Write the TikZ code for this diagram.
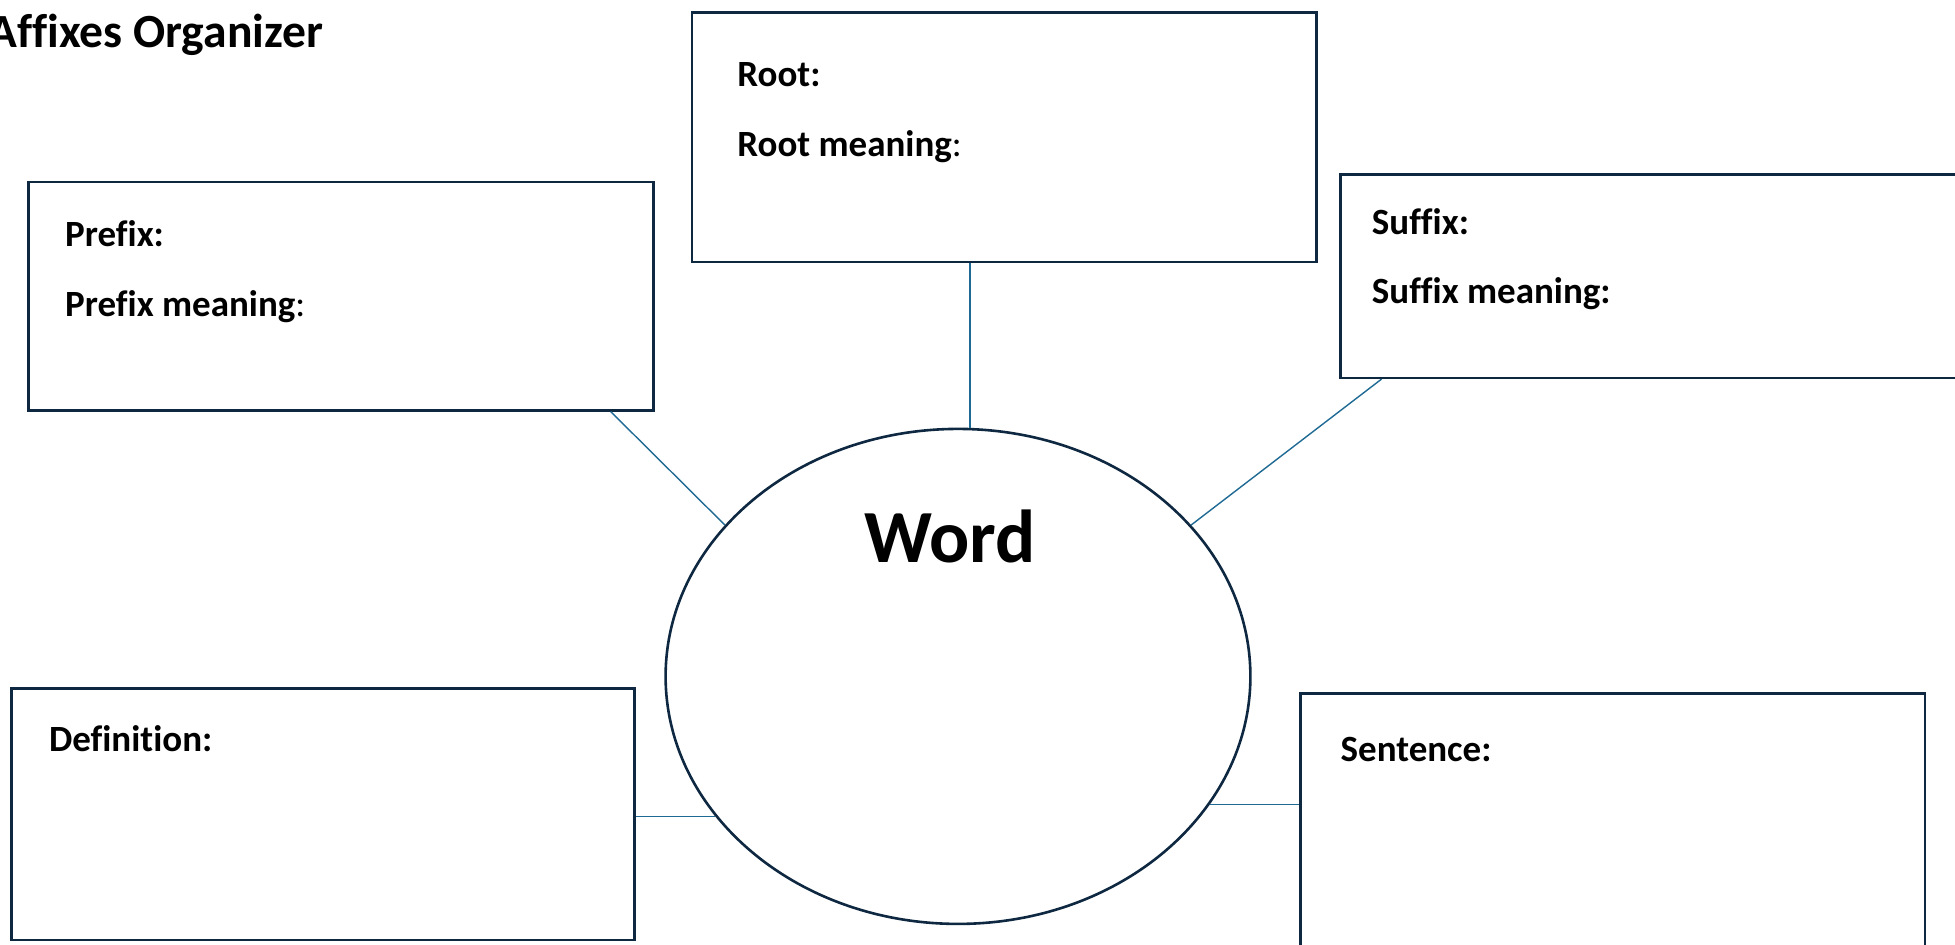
\documentclass[tikz,border=0pt]{standalone}
\usepackage{fontspec}
\setmainfont{Carlito}[Ligatures=CommonOff]
\usetikzlibrary{shapes.geometric,calc}
\definecolor{boxline}{HTML}{0E2841}
\definecolor{linkline}{HTML}{1F6A94}
\begin{document}
\begin{tikzpicture}[x=0.5pt,y=-0.5pt,
  card/.style={draw=boxline,line width=1.3pt,fill=white,anchor=north west,inner sep=0pt},
  link/.style={draw=linkline,line width=0.7pt},
  lbl/.style={anchor=base west,inner sep=0pt,font=\fontsize{18.5}{22}\selectfont\bfseries},
  titlefont/.style={anchor=base west,inner sep=0pt,font=\fontsize{23.8}{28}\selectfont\bfseries},
]
\useasboundingbox (0,0) rectangle (1955,944);
\clip (0,0) rectangle (1955,944);

% boxes
\node[card,minimum width=312.3pt,minimum height=114.1pt] (prefix) at (27.4,180.8) {};
\node[card,minimum width=312.35pt,minimum height=124.7pt] (root) at (690.7,11.2) {};
\node[card,minimum width=312.5pt,minimum height=101.6pt] (suffix) at (1339,173.3) {};
\node[card,minimum width=311.7pt,minimum height=125.9pt] (definition) at (10,687) {};
\node[card,minimum width=312.4pt,minimum height=128pt] (sentence) at (1299,692) {};

% central ellipse
\node[ellipse,draw=boxline,line width=1.3pt,fill=white,inner sep=0pt,
      minimum width=292.4pt,minimum height=247.5pt] (word) at (958,676.4) {};
\node[anchor=base,inner sep=0pt,font=\fontsize{37.5}{44}\selectfont\bfseries] (wordlabel) at (950,562) {Word};

% connectors
\coordinate (ps) at ($(prefix.south west)!0.930!(prefix.south east)$);
\coordinate (rs) at ($(root.south west)!0.445!(root.south east)$);
\coordinate (ss) at ($(suffix.south west)+(42.5,0)$);
\draw[link] (ps) -- (word.147);
\draw[link] (rs) -- (rs |- word.north);
\draw[link] (ss) -- (word.33);
\draw[link] (definition.east |- word.210) -- (word.210);
\draw[link] (word.333) -- (sentence.west |- word.333);

% texts
\node[titlefont] (title) at (-12,47.5) {Affixes Organizer};
\node[lbl] (roott) at (737,86.8) {Root:};
\node[lbl] (rootm) at (737,156) {Root meaning{\mdseries :}};
\node[lbl] (prefixt) at (64.8,246.4) {Prefix:};
\node[lbl] (prefixm) at (64.8,316) {Prefix meaning{\mdseries :}};
\node[lbl] (suffixt) at (1371.5,234) {Suffix:};
\node[lbl] (suffixm) at (1371.5,303.7) {Suffix meaning:};
\node[lbl] (deft) at (48.6,751.4) {Definition:};
\node[lbl] (sentt) at (1340.3,761.3) {Sentence:};
\end{tikzpicture}
\end{document}
